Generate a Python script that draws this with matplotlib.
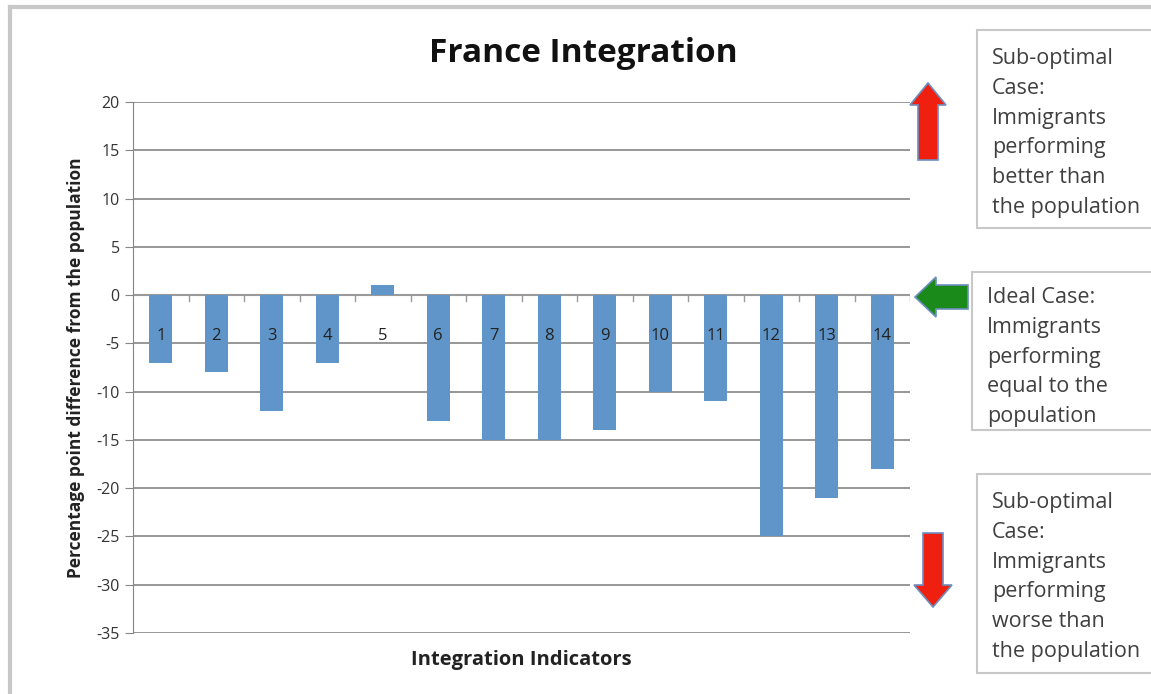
import matplotlib.pyplot as plt
import numpy as np
from matplotlib.patches import FancyArrow, Rectangle

indicators = [str(i) for i in range(1, 15)]
differences = [-7, -8, -12, -7, 1, -13, -15, -15, -14, -10, -11, -25, -21, -18]
y_ticks = [20, 15, 10, 5, 0, -5, -10, -15, -20, -25, -30, -35]

box_texts = [
    'Sub-optimal\nCase:\nImmigrants\nperforming\nbetter than\nthe population',
    'Ideal Case:\nImmigrants\nperforming\nequal to the\npopulation',
    'Sub-optimal\nCase:\nImmigrants\nperforming\nworse than\nthe population',
]

plt.rcParams['font.family'] = ['Open Sans', 'DejaVu Sans']

W, H = 1151, 694
fig = plt.figure(figsize=(W / 100, H / 100), dpi=100)

# main chart, placed in pixel terms
ax = fig.add_axes([133 / W, 1 - 633 / H, 777 / W, 531 / H])
x = np.arange(1, len(differences) + 1)
ax.bar(x, differences, width=0.42, color='#6095c9', zorder=3)
ax.set_xlim(0.5, len(differences) + 0.5)
ax.set_ylim(-35, 20)
ax.set_yticks(y_ticks)
ax.set_yticklabels([str(v) for v in y_ticks], fontsize=11.5, color='#333333')
ax.yaxis.grid(True, color='#858585', linewidth=1.2, zorder=0)
ax.tick_params(axis='y', length=6, color='#858585', direction='out')
ax.set_xticks([])
for s in ['top', 'right', 'bottom']:
    ax.spines[s].set_visible(False)
ax.spines['left'].set_color('#858585')
ax.axhline(0, color='#9a9a9a', linewidth=1.5, zorder=2)
# small ticks between categories along the zero line
for xb in np.arange(1.5, len(differences) + 0.6, 1.0):
    ax.plot([xb, xb], [0, -0.6], color='#9a9a9a', linewidth=1, zorder=2)
for xi, lab in zip(x, indicators):
    ax.text(xi, -4.2, lab, ha='center', va='center', fontsize=12, color='#222222', zorder=4)

ax.set_ylabel('Percentage point difference from the population', fontsize=12.5,
              fontweight='bold', color='#222222', labelpad=8)
ax.set_xlabel('Integration Indicators', fontsize=14.5, fontweight='bold',
              color='#222222', labelpad=12)
fig.text(583 / W, 1 - 53 / H, 'France Integration', ha='center', va='center',
         fontsize=24, fontweight='bold', color='#111111')

# overlay in pixel coordinates for the frame, arrows and boxes
ov = fig.add_axes([0, 0, 1, 1], facecolor='none')
ov.set_xlim(0, W)
ov.set_ylim(H, 0)
ov.axis('off')

ov.plot([10, W], [7, 7], color='#c8c8c8', linewidth=3)
ov.plot([10, 10], [7, H], color='#c8c8c8', linewidth=3)

boxes = [(977, 30, 198), (972, 272, 158), (977, 474, 199)]
offsets = [18, 15, 18]
for (bx, by, bh), txt, off in zip(boxes, box_texts, offsets):
    ov.add_patch(Rectangle((bx, by), W - bx + 5, bh, facecolor='white',
                           edgecolor='#c8c8c8', linewidth=1.5))
    ov.text(bx + 15, by + off, txt, ha='left', va='top', fontsize=15.5,
            color='#404040', linespacing=1.55)

ov.add_patch(FancyArrow(928, 160, 0, -55, width=20, head_width=36, head_length=22,
                        length_includes_head=False, facecolor='#f02010',
                        edgecolor='#6d8fc0', linewidth=1.2))
ov.add_patch(FancyArrow(933, 533, 0, 52, width=20, head_width=38, head_length=22,
                        facecolor='#f02010', edgecolor='#6d8fc0', linewidth=1.2))
ov.add_patch(FancyArrow(968, 297, -32, 0, width=24, head_width=40, head_length=21,
                        facecolor='#1a8a1a', edgecolor='#6d8fc0', linewidth=1.2))

fig.savefig('out.png', dpi=100)
